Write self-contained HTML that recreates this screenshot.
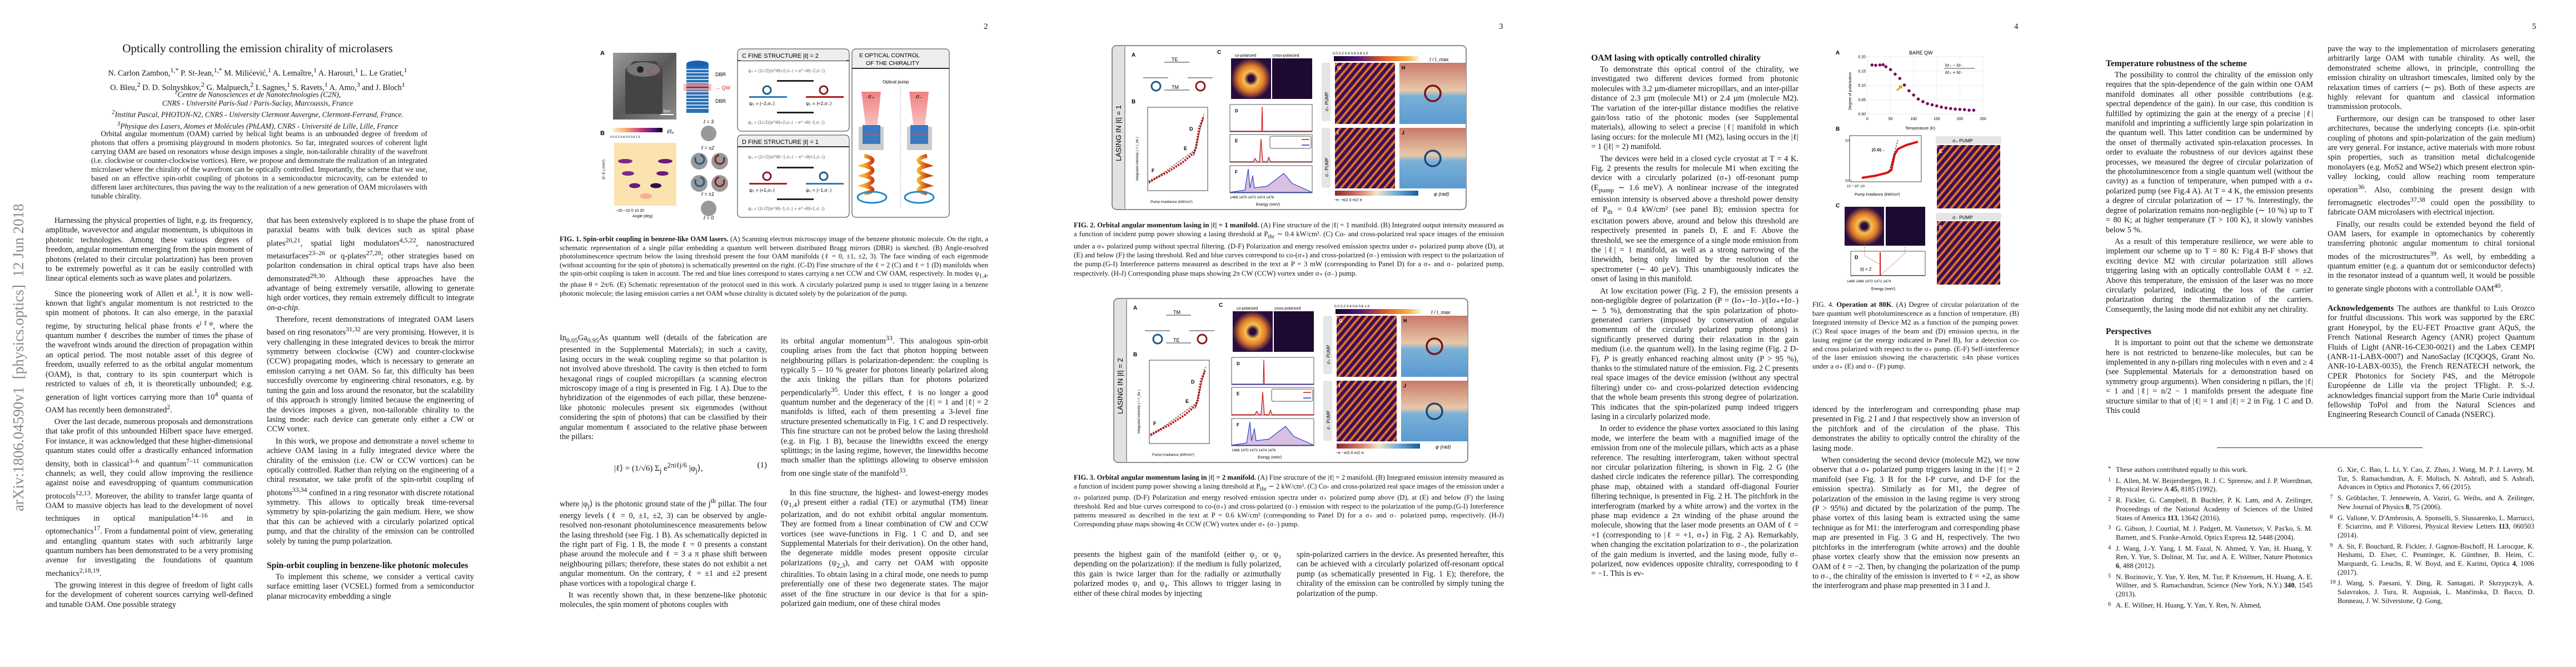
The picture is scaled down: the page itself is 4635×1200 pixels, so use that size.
<!DOCTYPE html>
<html><head><meta charset="utf-8">
<style>
html,body{margin:0;padding:0;background:#fff;}
body{width:4635px;height:1200px;position:relative;overflow:hidden;font-family:"Liberation Serif",serif;color:#151515;}
.a{position:absolute;}
.col{position:absolute;width:373px;font-size:14.4px;line-height:17.4px;text-align:justify;overflow:hidden;hyphens:auto;}
.col p{margin:0;text-indent:1.1em;}
.col p+p{margin-top:4px;}
.col h3{font-size:15.5px;margin:0 0 3px 0;font-weight:bold;text-align:left;line-height:18px;}
.cap{position:absolute;font-size:12.6px;line-height:15.6px;text-align:justify;overflow:hidden;}
.pn{position:absolute;top:40px;font-size:15px;}
.ref{font-size:12.6px;line-height:15.7px;text-align:justify;}
.ref p{margin:0;text-indent:0;padding-left:14px;position:relative;}
.ref p sup{position:absolute;left:0;top:-2px;}
svg text{font-family:"Liberation Sans",sans-serif;}
</style></head>
<body>
<div class="a" style="left:18px;top:920px;transform-origin:0 0;transform:rotate(-90deg);font-size:27px;color:#888;white-space:nowrap;font-family:'Liberation Serif',serif;">arXiv:1806.04590v1 &nbsp;[physics.optics] &nbsp;12 Jun 2018</div>

<!-- PAGE 1 -->
<div class="a" style="left:0;width:927px;top:75px;text-align:center;font-size:21px;font-weight:normal;">Optically controlling the emission chirality of microlasers</div>
<div class="a" style="left:100px;width:727px;top:116px;text-align:center;font-size:14.4px;line-height:20px;">N. Carlon Zambon,<sup>1,*</sup> P. St-Jean,<sup>1,*</sup> M. Milićević,<sup>1</sup> A. Lemaître,<sup>1</sup> A. Harouri,<sup>1</sup> L. Le Gratiet,<sup>1</sup><br>O. Bleu,<sup>2</sup> D. D. Solnyshkov,<sup>2</sup> G. Malpuech,<sup>2</sup> I. Sagnes,<sup>1</sup> S. Ravets,<sup>1</sup> A. Amo,<sup>3</sup> and J. Bloch<sup>1</sup></div>
<div class="a" style="left:100px;width:727px;top:158px;text-align:center;font-size:13.2px;line-height:16px;font-style:italic;"><sup>1</sup>Centre de Nanosciences et de Nanotechnologies (C2N),<br>CNRS - Université Paris-Sud / Paris-Saclay, Marcoussis, France<br><sup>2</sup>Institut Pascal, PHOTON-N2, CNRS - University Clermont Auvergne, Clermont-Ferrand, France.<br><sup>3</sup>Physique des Lasers, Atomes et Molécules (PhLAM), CNRS - Université de Lille, Lille, France</div>
<div class="a" style="left:164px;width:605px;top:233px;font-size:13.4px;line-height:16px;text-align:justify;text-indent:1.3em;">Orbital angular momentum (OAM) carried by helical light beams is an unbounded degree of freedom of photons that offers a promising playground in modern photonics. So far, integrated sources of coherent light carrying OAM are based on resonators whose design imposes a single, non-tailorable chirality of the wavefront (i.e. clockwise or counter-clockwise vortices). Here, we propose and demonstrate the realization of an integrated microlaser where the chirality of the wavefront can be optically controlled. Importantly, the scheme that we use, based on an effective spin-orbit coupling of photons in a semiconductor microcavity, can be extended to different laser architectures, thus paving the way to the realization of a new generation of OAM microlasers with tunable chirality.</div>

<div class="col" style="left:82px;top:389px;height:708px;">
<p>Harnessing the physical properties of light, e.g. its frequency, amplitude, wavevector and angular momentum, is ubiquitous in photonic technologies. Among these various degrees of freedom, angular momentum emerging from the spin moment of photons (related to their circular polarization) has been proven to be extremely powerful as it can be easily controlled with linear optical elements such as wave plates and polarizers.</p>
<p>Since the pioneering work of Allen et al.<sup>1</sup>, it is now well-known that light's angular momentum is not restricted to the spin moment of photons. It can also emerge, in the paraxial regime, by structuring helical phase fronts e<sup>iℓφ</sup>, where the quantum number ℓ describes the number of times the phase of the wavefront winds around the direction of propagation within an optical period. The most notable asset of this degree of freedom, usually referred to as the orbital angular momentum (OAM), is that, contrary to its spin counterpart which is restricted to values of ±ħ, it is theoretically unbounded; e.g. generation of light vortices carrying more than 10<sup>4</sup> quanta of OAM has recently been demonstrated<sup>2</sup>.</p>
<p>Over the last decade, numerous proposals and demonstrations that take profit of this unbounded Hilbert space have emerged. For instance, it was acknowledged that these higher-dimensional quantum states could offer a drastically enhanced information density, both in classical<sup>3–6</sup> and quantum<sup>7–11</sup> communication channels; as well, they could allow improving the resilience against noise and eavesdropping of quantum communication protocols<sup>12,13</sup>. Moreover, the ability to transfer large quanta of OAM to massive objects has lead to the development of novel techniques in optical manipulation<sup>14–16</sup> and in optomechanics<sup>17</sup>. From a fundamental point of view, generating and entangling quantum states with such arbitrarily large quantum numbers has been demonstrated to be a very promising avenue for investigating the foundations of quantum mechanics<sup>2,18,19</sup>.</p>
<p>The growing interest in this degree of freedom of light calls for the development of coherent sources carrying well-defined and tunable OAM. One possible strategy</p>
</div>
<div class="col" style="left:480px;top:389px;height:708px;">
<p style="text-indent:0">that has been extensively explored is to shape the phase front of paraxial beams with bulk devices such as spiral phase plates<sup>20,21</sup>, spatial light modulators<sup>4,5,22</sup>, nanostructured metasurfaces<sup>23–26</sup> or q-plates<sup>27,28</sup>; other strategies based on polariton condensation in chiral optical traps have also been demonstrated<sup>29,30</sup>. Although these approaches have the advantage of being extremely versatile, allowing to generate high order vortices, they remain extremely difficult to integrate <i>on-a-chip</i>.</p>
<p>Therefore, recent demonstrations of integrated OAM lasers based on ring resonators<sup>31,32</sup> are very promising. However, it is very challenging in these integrated devices to break the mirror symmetry between clockwise (CW) and counter-clockwise (CCW) propagating modes, which is necessary to generate an emission carrying a net OAM. So far, this difficulty has been succesfully overcome by engineering chiral resonators, e.g. by tuning the gain and loss around the resonator, but the scalability of this approach is strongly limited because the engineering of the devices imposes a given, non-tailorable chirality to the lasing mode: each device can generate only either a CW or CCW vortex.</p>
<p>In this work, we propose and demonstrate a novel scheme to achieve OAM lasing in a fully integrated device where the chirality of the emission (i.e. CW or CCW vortices) can be optically controlled. Rather than relying on the engineering of a chiral resonator, we take profit of the spin-orbit coupling of photons<sup>33,34</sup> confined in a ring resonator with discrete rotational symmetry. This allows to optically break time-reversal symmetry by spin-polarizing the gain medium. Here, we show that this can be achieved with a circularly polarized optical pump, and that the chirality of the emission can be controlled solely by tuning the pump polarization.</p>
<h3 style="margin-top:26px;">Spin-orbit coupling in benzene-like photonic molecules</h3>
<p>To implement this scheme, we consider a vertical cavity surface emitting laser (VCSEL) formed from a semiconductor planar microcavity embedding a single</p>
</div>

<!-- PAGE 2 -->
<div class="pn" style="left:1770px;">2</div>
<svg class="a" style="left:1080px;top:85px;" width="640" height="310" viewBox="0 0 640 310">
 <defs>
  <linearGradient id="semg" x1="0" y1="0" x2="1" y2="1"><stop offset="0" stop-color="#9a9a9a"/><stop offset="0.5" stop-color="#5a5a5a"/><stop offset="1" stop-color="#8a8a8a"/></linearGradient>
  <linearGradient id="magma" x1="0" x2="1"><stop offset="0" stop-color="#fcf3c8"/><stop offset="0.3" stop-color="#f8a070"/><stop offset="0.6" stop-color="#b73779"/><stop offset="0.85" stop-color="#51127c"/><stop offset="1" stop-color="#000004"/></linearGradient>
  <linearGradient id="beam" x1="0" y1="0" x2="0" y2="1"><stop offset="0" stop-color="#f08080"/><stop offset="1" stop-color="#f7c6c6"/></linearGradient>
  <linearGradient id="spiral" x1="0" x2="1"><stop offset="0" stop-color="#f5b030"/><stop offset="1" stop-color="#d04010"/></linearGradient>
 </defs>
 <text x="0" y="14" font-size="11" font-weight="bold">A</text>
 <rect x="23" y="10" width="114" height="120" fill="url(#semg)"/>
 <path d="M45 40 L60 25 L100 25 L112 40 L112 120 L45 120 Z" fill="#444"/>
 <ellipse cx="78" cy="40" rx="30" ry="13" fill="#777"/><circle cx="72" cy="40" r="6" fill="#222"/>
 <ellipse cx="98" cy="44" rx="12" ry="7" fill="none" stroke="#d33" stroke-dasharray="2 1"/>
 <rect x="108" y="120" width="24" height="2" fill="#fff"/><text x="113" y="117" font-size="7" fill="#fff">3µm</text>
 <g>
  <rect x="155" y="30" width="40" height="88" fill="#2a6fb5"/>
  <g stroke="#fff" stroke-width="1.5"><line x1="155" y1="40" x2="195" y2="40"/><line x1="155" y1="46" x2="195" y2="46"/><line x1="155" y1="52" x2="195" y2="52"/><line x1="155" y1="58" x2="195" y2="58"/><line x1="155" y1="64" x2="195" y2="64"/><line x1="155" y1="80" x2="195" y2="80"/><line x1="155" y1="86" x2="195" y2="86"/><line x1="155" y1="92" x2="195" y2="92"/><line x1="155" y1="98" x2="195" y2="98"/><line x1="155" y1="104" x2="195" y2="104"/><line x1="155" y1="110" x2="195" y2="110"/></g>
  <rect x="150" y="66" width="50" height="12" fill="#f4a0a0" opacity="0.7"/><line x1="155" y1="72" x2="195" y2="72" stroke="#c00" stroke-width="2"/>
  <ellipse cx="175" cy="30" rx="20" ry="6" fill="#1a5fb5"/>
  <text x="207" y="52" font-size="9">DBR</text><text x="207" y="76" font-size="9" fill="#d22">→ QW</text><text x="207" y="100" font-size="9">DBR</text>
 </g>
 <text x="0" y="158" font-size="11" font-weight="bold">B</text>
 <rect x="22" y="145" width="90" height="8" fill="url(#magma)"/>
 <text x="18" y="163" font-size="5.5">0.0 0.2 0.4 0.6 0.8 1.0</text><text x="120" y="155" font-size="10" font-style="italic" font-family="Liberation Serif">I/I₀</text>
 <g>
  <rect x="25" y="172" width="112" height="113" fill="#fbe3b0"/>
  <ellipse cx="45" cy="205" rx="13" ry="4" fill="#7a2a8a"/><ellipse cx="117" cy="205" rx="13" ry="4" fill="#6a1a7a"/>
  <ellipse cx="50" cy="227" rx="11" ry="4" fill="#7a2a8a"/><ellipse cx="112" cy="227" rx="11" ry="4" fill="#6a1a7a"/>
  <ellipse cx="62" cy="249" rx="10" ry="4.5" fill="#6a1a7a"/><ellipse cx="100" cy="249" rx="10" ry="4.5" fill="#300a50"/>
  <ellipse cx="82" cy="268" rx="11" ry="5" fill="#f5b090"/>
  <text x="0" y="230" font-size="6" transform="rotate(-90 8 230)">(E−E₀) (meV)</text>
  <text x="28" y="296" font-size="7">−20 −10  0  10  20</text><text x="58" y="306" font-size="7">Angle (deg)</text>
 </g>
 <g fill="#999">
  <circle cx="195" cy="155" r="14"/><circle cx="178" cy="205" r="15"/><circle cx="215" cy="205" r="15"/><circle cx="178" cy="245" r="15"/><circle cx="215" cy="245" r="15"/><circle cx="195" cy="290" r="14"/>
 </g>
 <g fill="none" stroke-width="3"><path d="M172 198 a8 8 0 1 0 8 -4" stroke="#1d5a8a"/><path d="M172 238 a8 8 0 1 0 8 -4" stroke="#1d5a8a"/><path d="M222 198 a8 8 0 1 1 -8 -4" stroke="#8a1a1a"/><path d="M222 238 a8 8 0 1 1 -8 -4" stroke="#8a1a1a"/></g>
 <text x="186" y="137" font-size="9" font-family="Liberation Serif" font-style="italic">ℓ = 3</text><text x="182" y="184" font-size="9" font-family="Liberation Serif" font-style="italic">ℓ = ±2</text><text x="182" y="267" font-size="9" font-family="Liberation Serif" font-style="italic">ℓ = ±1</text><text x="186" y="310" font-size="9" font-family="Liberation Serif" font-style="italic">ℓ = 0</text>
 <g>
  <rect x="247" y="3" width="201" height="148" rx="7" fill="#fff" stroke="#333"/>
  <path d="M247 24 L448 24" stroke="#333" stroke-width="2"/><rect x="248" y="4" width="199" height="20" rx="6" fill="#eee"/>
  <text x="255" y="19" font-size="11" font-family="Liberation Serif">C  FINE STRUCTURE |ℓ| = 2</text>
  <text x="266" y="45" font-size="8" font-family="Liberation Serif" fill="#666">ψ₄ = (1/√2)(e^iθ|+2,σ₊⟩ + e^−iθ|−2,σ₋⟩)</text>
  <rect x="318" y="59" width="66" height="3" fill="#222"/>
  <rect x="268" y="88" width="68" height="3" fill="#2a7ac0"/><rect x="370" y="88" width="68" height="3" fill="#b01a1a"/>
  <circle cx="300" cy="77" r="7" fill="none" stroke="#1d5a8a" stroke-width="3"/><circle cx="402" cy="77" r="7" fill="none" stroke="#8a1a1a" stroke-width="3"/>
  <text x="268" y="104" font-size="8.5" font-family="Liberation Serif">ψ₂ = |−2,σ₊⟩</text><text x="370" y="104" font-size="8.5" font-family="Liberation Serif">ψ₃ = |+2,σ₋⟩</text>
  <rect x="318" y="116" width="66" height="3" fill="#222"/>
  <text x="266" y="138" font-size="8" font-family="Liberation Serif" fill="#666">ψ₁ = (1/√2)(e^iθ|+2,σ₊⟩ − e^−iθ|−2,σ₋⟩)</text>
 </g>
 <g>
  <rect x="247" y="158" width="201" height="148" rx="7" fill="#fff" stroke="#333"/>
  <rect x="248" y="159" width="199" height="20" rx="6" fill="#eee"/><path d="M247 179 L448 179" stroke="#333" stroke-width="2"/>
  <text x="255" y="174" font-size="11" font-family="Liberation Serif">D  FINE STRUCTURE |ℓ| = 1</text>
  <text x="266" y="200" font-size="8" font-family="Liberation Serif" fill="#666">ψ₄ = (1/√2)(e^iθ|−1,σ₊⟩ − e^−iθ|+1,σ₋⟩)</text>
  <rect x="318" y="215" width="66" height="3" fill="#222"/>
  <rect x="268" y="244" width="68" height="3" fill="#b01a1a"/><rect x="370" y="244" width="68" height="3" fill="#2a7ac0"/>
  <circle cx="300" cy="232" r="7" fill="none" stroke="#8a1a1a" stroke-width="3"/><circle cx="402" cy="232" r="7" fill="none" stroke="#1d5a8a" stroke-width="3"/>
  <text x="268" y="260" font-size="8.5" font-family="Liberation Serif">ψ₂ = |+1,σ₊⟩</text><text x="370" y="260" font-size="8.5" font-family="Liberation Serif">ψ₃ = |−1,σ₋⟩</text>
  <rect x="318" y="272" width="66" height="3" fill="#222"/>
  <text x="266" y="293" font-size="8" font-family="Liberation Serif" fill="#666">ψ₁ = (1/√2)(e^iθ|−1,σ₊⟩ + e^−iθ|+1,σ₋⟩)</text>
 </g>
 <g>
  <rect x="453" y="3" width="175" height="303" rx="7" fill="#fff" stroke="#333"/>
  <rect x="454" y="4" width="173" height="34" rx="6" fill="#eee"/><path d="M453 38 L628 38" stroke="#333" stroke-width="2"/>
  <text x="466" y="18" font-size="10.5" font-family="Liberation Serif">E  OPTICAL CONTROL</text><text x="478" y="32" font-size="10.5" font-family="Liberation Serif">OF THE CHIRALITY</text>
  <text x="508" y="65" font-size="8" font-family="Liberation Serif">Optical pump</text>
  <path d="M470 80 L505 80 L498 145 L478 145 Z" fill="url(#beam)"/><path d="M556 80 L591 80 L584 145 L564 145 Z" fill="url(#beam)"/>
  <text x="482" y="92" font-size="10" font-family="Liberation Serif" font-style="italic">σ₊</text><text x="568" y="92" font-size="10" font-family="Liberation Serif" font-style="italic">σ₋</text>
  <rect x="465" y="143" width="45" height="42" fill="#ccc"/><rect x="552" y="143" width="45" height="42" fill="#ccc"/>
  <rect x="472" y="140" width="32" height="34" fill="#3a7ac0"/><rect x="558" y="140" width="32" height="34" fill="#3a7ac0"/>
  <line x1="472" y1="158" x2="504" y2="158" stroke="#e44" stroke-width="1.5"/><line x1="558" y1="158" x2="590" y2="158" stroke="#e44" stroke-width="1.5"/>
  <path d="M475 195 q30 8 0 18 q30 8 0 18 q30 8 0 18 q30 8 0 14" fill="none" stroke="url(#spiral)" stroke-width="7"/>
  <path d="M588 195 q-30 8 0 18 q-30 8 0 18 q-30 8 0 18 q-30 8 0 14" fill="none" stroke="url(#spiral)" stroke-width="7"/>
  <ellipse cx="489" cy="270" rx="26" ry="10" fill="none" stroke="#2a8ad0" stroke-width="3"/><ellipse cx="574" cy="270" rx="26" ry="10" fill="none" stroke="#2a8ad0" stroke-width="3"/>
  <line x1="540" y1="70" x2="540" y2="290" stroke="#999" stroke-dasharray="2 2"/>
 </g>
</svg>
<div class="cap" style="left:1007px;top:423px;width:771px;height:140px;"><b>FIG. 1. Spin-orbit coupling in benzene-like OAM lasers.</b> (A) Scanning electron microscopy image of the benzene photonic molecule. On the right, a schematic representation of a single pillar embedding a quantum well between distributed Bragg mirrors (DBR) is sketched. (B) Angle-resolved photoluminescence spectrum below the lasing threshold present the four OAM manifolds (ℓ = 0, ±1, ±2, 3). The face winding of each eigenmode (without accounting for the spin of photons) is schematically presented on the right. (C-D) Fine structure of the ℓ = 2 (C) and ℓ = 1 (D) manifolds when the spin-orbit coupling is taken in account. The red and blue lines correspond to states carrying a net CCW and CW OAM, respectively. In modes ψ<sub>1,4</sub>, the phase θ = 2π/6. (E) Schematic representation of the protocol used in this work. A circularly polarized pump is used to trigger lasing in a benzene photonic molecule; the lasing emission carries a net OAM whose chirality is dictated solely by the polarization of the pump.</div>
<div class="col" style="left:1007px;top:600px;height:497px;">
<p style="text-indent:0">In<sub>0.05</sub>Ga<sub>0.95</sub>As quantum well (details of the fabrication are presented in the Supplemental Materials); in such a cavity, lasing occurs in the weak coupling regime so that polariton is not involved above threshold. The cavity is then etched to form hexagonal rings of coupled micropillars (a scanning electron microscopy image of a ring is presented in Fig. 1 A). Due to the hybridization of the eigenmodes of each pillar, these benzene-like photonic molecules present six eigenmodes (without considering the spin of photons) that can be classified by their angular momentum ℓ associated to the relative phase between the pillars:</p>
<div style="text-align:center;margin:34px 0 36px 0;font-size:15px;">|ℓ⟩ = (1/√6) Σ<sub>j</sub> e<sup>2πiℓj/6</sup> |φ<sub>j</sub>⟩, <span style="float:right">(1)</span></div>
<p style="text-indent:0">where |φ<sub>j</sub>⟩ is the photonic ground state of the j<sup>th</sup> pillar. The four energy levels (ℓ = 0, ±1, ±2, 3) can be observed by angle-resolved non-resonant photoluminescence measurements below the lasing threshold (see Fig. 1 B). As schematically depicted in the right part of Fig. 1 B, the mode ℓ = 0 presents a constant phase around the molecule and ℓ = 3 a π phase shift between neighbouring pillars; therefore, these states do not exhibit a net angular momentum. On the contrary, ℓ = ±1 and ±2 present phase vortices with a topological charge ℓ.</p>
<p>It was recently shown that, in these benzene-like photonic molecules, the spin moment of photons couples with</p>
</div>
<div class="col" style="left:1405px;top:600px;height:497px;">
<p style="text-indent:0">its orbital angular momentum<sup>33</sup>. This analogous spin-orbit coupling arises from the fact that photon hopping between neighbouring pillars is polarization-dependent: the coupling is typically 5 – 10 % greater for photons linearly polarized along the axis linking the pillars than for photons polarized perpendicularly<sup>35</sup>. Under this effect, ℓ is no longer a good quantum number and the degeneracy of the |ℓ| = 1 and |ℓ| = 2 manifolds is lifted, each of them presenting a 3-level fine structure presented schematically in Fig. 1 C and D respectively. This fine structure can not be probed below the lasing threshold (e.g. in Fig. 1 B), because the linewidths exceed the energy splittings; in the lasing regime, however, the linewidths become much smaller than the splittings allowing to observe emission from one single state of the manifold<sup>33</sup>.</p>
<p style="margin-top:18px">In this fine structure, the highest- and lowest-energy modes (ψ<sub>1,4</sub>) present either a radial (TE) or azymuthal (TM) linear polarization, and do not exhibit orbital angular momentum. They are formed from a linear combination of CW and CCW vortices (see wave-functions in Fig. 1 C and D, and see Supplemental Materials for their derivation). On the other hand, the degenerate middle modes present opposite circular polarizations (ψ<sub>2,3</sub>), and carry net OAM with opposite chiralities. To obtain lasing in a chiral mode, one needs to pump preferentially one of these two degenerate states. The major asset of the fine structure in our device is that for a spin-polarized gain medium, one of these chiral modes</p>
</div>

<!-- PAGE 3 -->
<div class="pn" style="left:2697px;">3</div>
<svg class="a" id="fig2" style="left:2000px;top:80px;" width="640" height="300" viewBox="0 0 640 300">
 <defs>
  <linearGradient id="inf" x1="0" x2="1"><stop offset="0" stop-color="#0d0829"/><stop offset="0.3" stop-color="#5a1a78"/><stop offset="0.6" stop-color="#e0602a"/><stop offset="0.85" stop-color="#f8b040"/><stop offset="1" stop-color="#fcf3c8"/></linearGradient>
  <linearGradient id="phs" x1="0" x2="1"><stop offset="0" stop-color="#8a2a2a"/><stop offset="0.3" stop-color="#d88070"/><stop offset="0.5" stop-color="#f3e6c0"/><stop offset="0.75" stop-color="#6aaad6"/><stop offset="1" stop-color="#1a5a9a"/></linearGradient>
  <pattern id="stripes" width="10" height="10" patternUnits="userSpaceOnUse" patternTransform="rotate(40)"><rect width="10" height="10" fill="#3a1055"/><rect width="4" height="10" fill="#e0702a"/></pattern>
  <radialGradient id="donut"><stop offset="0.15" stop-color="#2a0a40"/><stop offset="0.35" stop-color="#f8c050"/><stop offset="0.65" stop-color="#e07a2a"/><stop offset="1" stop-color="#2a0d40"/></radialGradient>
  <linearGradient id="phmap" x1="0" y1="0" x2="0" y2="1"><stop offset="0" stop-color="#c87a6a"/><stop offset="0.45" stop-color="#e8c8a8"/><stop offset="0.55" stop-color="#7ab0d8"/><stop offset="1" stop-color="#5a9ad0"/></linearGradient>
 </defs>
 <rect x="1" y="2" width="637" height="295" rx="8" fill="#fff" stroke="#666" stroke-width="1.5"/>
 <rect x="2" y="3" width="22" height="293" rx="6" fill="#e2e2e2"/><line x1="24" y1="3" x2="24" y2="296" stroke="#555"/>
 <text class="lbl" x="17" y="210" font-size="13" font-family="Liberation Serif" transform="rotate(-90 17 210)">LASING IN |ℓ| = 1</text>
 <text x="36" y="22" font-size="10" font-weight="bold">A</text>
 <line x1="95" y1="32" x2="140" y2="32" stroke="#777" stroke-width="1.5"/><line x1="57" y1="60" x2="102" y2="60" stroke="#777" stroke-width="1.5"/><line x1="137" y1="60" x2="182" y2="60" stroke="#777" stroke-width="1.5"/><line x1="95" y1="82" x2="140" y2="82" stroke="#777" stroke-width="1.5"/>
 <text class="tA" x="108" y="30" font-size="9" font-family="Liberation Serif">TE</text><text class="tB" x="108" y="80" font-size="9" font-family="Liberation Serif">TM</text>
 <circle cx="80" cy="75" r="8" fill="none" stroke="#1d5a8a" stroke-width="3"/><circle cx="160" cy="75" r="8" fill="none" stroke="#8a1a1a" stroke-width="3"/>
 <text x="36" y="106" font-size="10" font-weight="bold">B</text>
 <g>
  <rect x="65" y="113" width="108" height="150" fill="#fff" stroke="#444"/>
  <path d="M67 247 L100 230 L128 212 L148 195 L152 185 L158 150 L165 132" fill="none" stroke="#d01010" stroke-width="4" stroke-dasharray="3 2"/>
  <path d="M67 250 L150 190 M148 200 L166 125" stroke="#111" stroke-dasharray="3 2" fill="none"/>
  <text x="140" y="155" font-size="9" font-weight="bold">D</text><text x="130" y="190" font-size="9" font-weight="bold">E</text><text x="72" y="230" font-size="9" font-weight="bold">F</text>
  <text x="48" y="245" font-size="6" transform="rotate(-90 48 245)">Integrated Intensity ( I / I_thr )</text>
  <text x="70" y="285" font-size="6.5">Pump Irradiance (kW/cm²)</text>
 </g>
 <text x="190" y="17" font-size="10" font-weight="bold">C</text>
 <text x="222" y="22" font-size="7" font-family="Liberation Serif">co-polarized</text><text x="290" y="22" font-size="7" font-family="Liberation Serif">cross-polarized</text>
 <rect x="215" y="25" width="72" height="73" fill="url(#donut)"/><rect x="289" y="25" width="72" height="73" fill="#1e0a30"/>
 <g>
  <rect x="213" y="108" width="148" height="49" fill="#fff" stroke="#555"/><rect x="213" y="162" width="148" height="50" fill="#fff" stroke="#555"/><rect x="213" y="218" width="148" height="49" fill="#fff" stroke="#555"/>
  <path d="M213 156 L270 156 L271 112 L272 156 L361 156" fill="none" stroke="#d01010" stroke-width="1.2"/><line x1="213" y1="156.5" x2="361" y2="156.5" stroke="#2030d0"/>
  <path d="M213 211 L255 211 L258 205 L262 211 L266 211 L269 170 L272 211 L280 211 L283 203 L286 211 L361 211" fill="#e8c8d8" stroke="#d01010" stroke-width="1.2"/>
  <path d="M213 266 L240 262 L246 224 L249 258 L254 236 L257 258 L280 255 L310 232 L325 250 L361 266 Z" fill="#d8c0e0" stroke="#3040c0" stroke-width="1.2"/>
  <rect x="285" y="165" width="74" height="22" rx="3" fill="#fff" stroke="#555"/>
  <line x1="342" y1="171" x2="356" y2="171" stroke="#d01010" stroke-width="1.5"/><line x1="342" y1="181" x2="356" y2="181" stroke="#2030d0" stroke-width="1.5"/>
  <text x="222" y="122" font-size="8" font-weight="bold">D</text><text x="222" y="176" font-size="8" font-weight="bold">E</text><text x="222" y="232" font-size="8" font-weight="bold">F</text>
  <text x="213" y="277" font-size="6.5">1468   1470   1472   1474   1476</text><text x="260" y="290" font-size="7">Energy (meV)</text>
 </g>
 <rect x="400" y="21" width="153" height="9" fill="url(#inf)"/><text x="398" y="18" font-size="6.5">0.0   0.2   0.4   0.6   0.8   1.0</text>
 <text x="572" y="30" font-size="9" font-style="italic" font-family="Liberation Serif">I / I_max</text>
 <rect x="378" y="33" width="16" height="105" rx="4" fill="#e5e5e5"/><rect x="378" y="150" width="16" height="108" rx="4" fill="#e5e5e5"/>
 <text x="390" y="120" font-size="8" font-family="Liberation Serif" transform="rotate(-90 390 120)">σ₊  PUMP</text><text x="390" y="238" font-size="8" font-family="Liberation Serif" transform="rotate(-90 390 238)">σ₋  PUMP</text>
 <g>
  <rect x="402" y="33" width="108" height="110" fill="url(#stripes)"/><rect x="402" y="150" width="108" height="109" fill="url(#stripes)"/>
  <text x="406" y="45" font-size="9" fill="#fff" font-weight="bold">G</text><text x="406" y="162" font-size="9" fill="#fff" font-weight="bold">I</text>
 </g>
 <g>
  <rect x="518" y="33" width="120" height="110" fill="url(#phmap)"/><rect x="518" y="150" width="120" height="109" fill="url(#phmap)"/>
  <circle cx="578" cy="88" r="14" fill="none" stroke="#7a1515" stroke-width="3.5"/><circle cx="578" cy="205" r="14" fill="none" stroke="#1a4a7a" stroke-width="3.5"/>
  <text x="522" y="45" font-size="9" font-weight="bold">H</text><text x="522" y="162" font-size="9" font-weight="bold">J</text>
 </g>
 <rect x="402" y="263" width="150" height="9" fill="url(#phs)"/>
 <text x="400" y="282" font-size="7" font-family="Liberation Serif">−π     −π/2      0      π/2      π</text><text x="580" y="272" font-size="9" font-style="italic" font-family="Liberation Serif">φ (rad)</text>
</svg>
<div class="cap" style="left:1932px;top:397px;width:774px;height:120px;font-size:12.8px;line-height:16.2px;"><b>FIG. 2. Orbital angular momentum lasing in |ℓ| = 1 manifold.</b> (A) Fine structure of the |ℓ| = 1 manifold. (B) Integrated output intensity measured as a function of incident pump power showing a lasing threshold at P<sub>thr</sub> ∼ 0.4 kW/cm². (C) Co- and cross-polarized real space images of the emission under a σ₊ polarized pump without spectral filtering. (D-F) Polarization and energy resolved emission spectra under σ₊ polarized pump above (D), at (E) and below (F) the lasing threshold. Red and blue curves correspond to co-(σ₊) and cross-polarized (σ₋) emission with respect to the polarization of the pump.(G-I) Interference patterns measured as described in the text at P = 3 mW (corresponding to Panel D) for a σ₊ and σ₋ polarized pump, respectively. (H-J) Corresponding phase maps showing 2π CW (CCW) vortex under σ₊ (σ₋) pump.</div>
<div id="fig3holder" class="a" style="left:2003px;top:535px;width:640px;height:300px;"></div>
<div class="cap" style="left:1932px;top:852px;width:774px;height:115px;font-size:12.6px;line-height:15.8px;"><b>FIG. 3. Orbital angular momentum lasing in |ℓ| = 2 manifold.</b> (A) Fine structure of the |ℓ| = 2 manifold. (B) Integrated emission intensity measured as a function of incident pump power showing a lasing threshold at P<sub>thr</sub> ∼ 2 kW/cm². (C) Co- and cross-polarized real space images of the emission under a σ₊ polarized pump. (D-F) Polarization and energy resolved emission spectra under σ₊ polarized pump above (D), at (E) and below (F) the lasing threshold. Red and blue curves correspond to co-(σ₊) and cross-polarized (σ₋) emission with respect to the polarization of the pump.(G-I) Interference patterns measured as described in the text at P = 0.6 kW/cm² (corresponding to Panel D) for a σ₊ and σ₋ polarized pump, respectively. (H-J) Corresponding phase maps showing 4π CCW (CW) vortex under σ₊ (σ₋) pump.</div>
<div class="col" style="left:1932px;top:990px;height:92px;">
<p style="text-indent:0">presents the highest gain of the manifold (either ψ₂ or ψ₃ depending on the polarization): if the medium is fully polarized, this gain is twice larger than for the radially or azimuthally polarized modes ψ₁ and ψ₄. This allows to trigger lasing in either of these chiral modes by injecting</p>
</div>
<div class="col" style="left:2333px;top:990px;height:92px;">
<p style="text-indent:0">spin-polarized carriers in the device. As presented hereafter, this can be achieved with a circularly polarized off-resonant optical pump (as schematically presented in Fig. 1 E); therefore, the chirality of the emission can be controlled by simply tuning the polarization of the pump.</p>
</div>

<!-- PAGE 4 -->
<div class="pn" style="left:3624px;">4</div>
<div class="col" style="left:2863px;top:96px;height:1002px;">
<h3>OAM lasing with optically controlled chirality</h3>
<p>To demonstrate this optical control of the chirality, we investigated two different devices formed from photonic molecules with 3.2 µm-diameter micropillars, and an inter-pillar distance of 2.3 µm (molecule M1) or 2.4 µm (molecule M2). The variation of the inter-pillar distance modifies the relative gain/loss ratio of the photonic modes (see Supplemental materials), allowing to select a precise |ℓ| manifold in which lasing occurs: for the molecule M1 (M2), lasing occurs in the |ℓ| = 1 (|ℓ| = 2) manifold.</p>
<p>The devices were held in a closed cycle cryostat at T = 4 K. Fig. 2 presents the results for molecule M1 when exciting the device with a circularly polarized (σ₊) off-resonant pump (E<sub>pump</sub> ∼ 1.6 meV). A nonlinear increase of the integrated emission intensity is observed above a threshold power density of P<sub>th</sub> = 0.4 kW/cm² (see panel B); emission spectra for excitation powers above, around and below this threshold are respectively presented in panels D, E and F. Above the threshold, we see the emergence of a single mode emission from the |ℓ| = 1 manifold, as well as a strong narrowing of the linewidth, being only limited by the resolution of the spectrometer (∼ 40 µeV). This unambiguously indicates the onset of lasing in this manifold.</p>
<p>At low excitation power (Fig. 2 F), the emission presents a non-negligible degree of polarization (P = (Iσ₊−Iσ₋)/(Iσ₊+Iσ₋) ∼ 5 %), demonstrating that the spin polarization of photo-generated carriers (imposed by conservation of angular momentum of the circularly polarized pump photons) is significantly preserved during their relaxation in the gain medium (i.e. the quantum well). In the lasing regime (Fig. 2 D-F), <i>P</i> is greatly enhanced reaching almost unity (P &gt; 95 %), thanks to the stimulated nature of the emission. Fig. 2 C presents real space images of the device emission (without any spectral filtering) under co- and cross-polarized detection evidencing that the whole beam presents this strong degree of polarization. This indicates that the spin-polarized pump indeed triggers lasing in a circularly polarized mode.</p>
<p>In order to evidence the phase vortex associated to this lasing mode, we interfere the beam with a magnified image of the emission from one of the molecule pillars, which acts as a phase reference. The resulting interferogram, taken without spectral nor circular polarization filtering, is shown in Fig. 2 G (the dashed circle indicates the reference pillar). The corresponding phase map, obtained with a standard off-diagonal Fourier filtering technique, is presented in Fig. 2 H. The pitchfork in the interferogram (marked by a white arrow) and the vortex in the phase map evidence a 2π winding of the phase around the molecule, showing that the laser mode presents an OAM of ℓ = +1 (corresponding to |ℓ = +1, σ₊⟩ in Fig. 2 A). Remarkably, when changing the excitation polarization to σ₋, the polarization of the gain medium is inverted, and the lasing mode, fully σ₋ polarized, now evidences opposite chirality, corresponding to ℓ = −1. This is ev-</p>
</div>
<svg class="a" id="fig4" style="left:3285px;top:80px;" width="330" height="450" viewBox="0 0 330 450">
 <text x="18" y="18" font-size="10" font-weight="bold">A</text>
 <text x="150" y="18" font-size="9" font-family="Liberation Serif">BARE QW</text>
 <rect x="75" y="22" width="208" height="103" fill="#fff" stroke="#444"/>
 <g id="fig4a-grid" stroke="#eee"></g>
 <g id="fig4a-ticks" font-size="7"></g>
 <g id="fig4a-points" fill="#7a0a5a"></g>
 <text x="215" y="40" font-size="8" font-style="italic" font-family="Liberation Serif">Iσ₊ − Iσ₋</text><line x1="213" y1="43" x2="268" y2="43" stroke="#444"/><text x="215" y="53" font-size="8" font-style="italic" font-family="Liberation Serif">Iσ₊ + Iσ₋</text>
 <path d="M128 83 l8 -8 m-4 0 l4 0 l0 4" stroke="#d8a800" stroke-width="3" fill="none"/>
 <text x="46" y="118" font-size="7" transform="rotate(-90 46 118)">Degree of polarization</text>
 <text x="143" y="153" font-size="7.5">Temperature (K)</text>
 <text x="18" y="155" font-size="10" font-weight="bold">B</text>
 <g>
  <rect x="43" y="164" width="129" height="83" fill="#fff" stroke="#444"/>
  <path d="M65 240 L90 236 L110 231 L118 226 L120 216 L124 198 L130 188 L145 181 L166 175" fill="none" stroke="#e01010" stroke-width="4"/>
  <line x1="113" y1="232" x2="130" y2="172" stroke="#111" stroke-dasharray="3 2"/>
  <text x="83" y="192" font-size="7" font-weight="bold">(C-D)→</text>
  <text x="35" y="175" font-size="6">10⁴</text><text x="35" y="247" font-size="6">10⁻¹</text>
  <text x="38" y="257" font-size="6">10⁻¹          10⁰          10¹</text>
  <text x="52" y="272" font-size="7">Pump Irradiance (kW/cm²)</text>
 </g>
 <text x="18" y="293" font-size="10" font-weight="bold">C</text>
 <rect x="34" y="292" width="71" height="70" fill="url(#donut)"/><rect x="108" y="292" width="71" height="70" fill="#1e0a30"/>
 <g>
  <rect x="45" y="372" width="134" height="44" fill="#fff" stroke="#555"/>
  <line x1="98" y1="374" x2="98" y2="416" stroke="#e01010" stroke-width="2"/><line x1="45" y1="415.5" x2="179" y2="415.5" stroke="#2030d0"/>
  <path d="M70 364 L70 380 L98 396 M143 364 L143 375 L99 415" stroke="#e04040" stroke-dasharray="2 2" fill="none"/>
  <text x="52" y="386" font-size="9" font-weight="bold">D</text><text x="62" y="407" font-size="8" font-family="Liberation Serif">|ℓ| = 2</text>
  <text x="38" y="428" font-size="6.5">1466  1468  1470  1472  1474</text><text x="82" y="442" font-size="7">Energy (meV)</text>
 </g>
 <rect x="198" y="165" width="118" height="14" rx="3" fill="#e5e5e5"/><text x="228" y="176" font-size="8.5" font-family="Liberation Serif">σ₊ PUMP</text>
 <rect x="200" y="181" width="114" height="114" fill="url(#stripes)"/><text x="204" y="195" font-size="9" fill="#fff" font-weight="bold">E</text>
 <rect x="198" y="303" width="118" height="14" rx="3" fill="#e5e5e5"/><text x="228" y="314" font-size="8.5" font-family="Liberation Serif">σ₋ PUMP</text>
 <rect x="200" y="318" width="114" height="114" fill="url(#stripes)"/><text x="204" y="332" font-size="9" fill="#fff" font-weight="bold">F</text>
</svg>
<div class="cap" style="left:3261px;top:541px;width:372px;height:145px;font-size:12.8px;line-height:15.9px;">FIG. 4. <b>Operation at 80K</b>. (A) Degree of circular polarization of the bare quantum well photoluminescence as a function of temperature. (B) Integrated intensity of Device M2 as a function of the pumping power. (C) Real space images of the beam and (D) emission spectra, in the lasing regime (at the energy indicated in Panel B), for a detection co- and cross polarized with respect to the σ₊ pump. (E-F) Self-interference of the laser emission showing the characteristic ±4π phase vortices under a σ₊ (E) and σ₋ (F) pump.</div>
<div class="col" style="left:3261px;top:729px;height:370px;">
<p style="text-indent:0">idenced by the interferogram and corresponding phase map presented in Fig. 2 I and J that respectively show an inversion of the pitchfork and of the circulation of the phase. This demonstrates the ability to optically control the chirality of the lasing mode.</p>
<p>When considering the second device (molecule M2), we now observe that a σ₊ polarized pump triggers lasing in the |ℓ| = 2 manifold (see Fig. 3 B for the I-P curve, and D-F for the emission spectra). Similarly as for M1, the degree of polarization of the emission in the lasing regime is very strong (P &gt; 95%) and dictated by the polarization of the pump. The phase vortex of this lasing beam is extracted using the same technique as for M1: the interferogram and corresponding phase map are presented in Fig. 3 G and H, respectively. The two pitchforks in the interferogram (white arrows) and the double phase vortex clearly show that the emission now presents an OAM of ℓ = −2. Then, by changing the polarization of the pump to σ₋, the chirality of the emission is inverted to ℓ = +2, as show the interferogram and phase map presented in 3 I and J.</p>
</div>

<!-- PAGE 5 -->
<div class="pn" style="left:4556px;">5</div>
<div class="col" style="left:3789px;top:98px;height:672px;">
<h3 style="margin-top:8px">Temperature robustness of the scheme</h3>
<p>The possibility to control the chirality of the emission only requires that the spin-dependence of the gain within one OAM manifold dominates all other possible contributions (e.g. spectral dependence of the gain). In our case, this condition is fulfilled by optimizing the gain at the energy of a precise |ℓ| manifold and imprinting a sufficiently large spin polarization in the quantum well. This latter condition can be undermined by the onset of thermally activated spin-relaxation processes. In order to evaluate the robustness of our devices against these processes, we measured the degree of circular polarization of the photoluminescence from a single quantum well (without the cavity) as a function of temperature, when pumped with a σ₊ polarized pump (see Fig.4 A). At T = 4 K, the emission presents a degree of circular polarization of ∼ 17 %. Interestingly, the degree of polarization remains non-negligible (∼ 10 %) up to T = 80 K; at higher temperature (T &gt; 100 K), it slowly vanishes below 5 %.</p>
<p>As a result of this temperature resilience, we were able to implement our scheme up to T = 80 K: Fig.4 B-F shows that exciting device M2 with circular polarization still allows triggering lasing with an optically controllable OAM ℓ = ±2. Above this temperature, the emission of the laser was no more circularly polarized, indicating the loss of the carrier polarization during the thermalization of the carriers. Consequently, the lasing mode did not exhibit any net chirality.</p>
<h3 style="margin-top:22px">Perspectives</h3>
<p>It is important to point out that the scheme we demonstrate here is not restricted to benzene-like molecules, but can be implemented in any n-pillars ring molecules with n even and ≥ 4 (see Supplemental Materials for a demonstration based on symmetry group arguments). When considering n pillars, the |ℓ| = 1 and |ℓ| = n/2 − 1 manifolds present the adequate fine structure similar to that of |ℓ| = 1 and |ℓ| = 2 in Fig. 1 C and D. This could</p>
</div>
<div class="col" style="left:4188px;top:80px;height:690px;">
<p style="text-indent:0">pave the way to the implementation of microlasers generating arbitrarily large OAM with tunable chirality. As well, the demonstrated scheme allows, in principle, controlling the emission chirality on ultrashort timescales, limited only by the relaxation times of carriers (∼ ps). Both of these aspects are highly relevant for quantum and classical information transmission protocols.</p>
<p>Furthermore, our design can be transposed to other laser architectures, because the underlying concepts (i.e. spin-orbit coupling of photons and spin-polarization of the gain medium) are very general. For instance, active materials with more robust spin properties, such as transition metal dichalcogenide monolayers (e.g. MoS2 and WSe2) which present electron spin-valley locking, could allow reaching room temperature operation<sup>36</sup>. Also, combining the present design with ferromagnetic electrodes<sup>37,38</sup> could open the possibility to fabricate OAM microlasers with electrical injection.</p>
<p>Finally, our results could be extended beyond the field of OAM lasers, for example in optomechanics by coherently transferring photonic angular momentum to chiral torsional modes of the microstructures<sup>39</sup>. As well, by embedding a quantum emitter (e.g. a quantum dot or semiconductor defects) in the resonator instead of a quantum well, it would be possible to generate single photons with a controllable OAM<sup>40</sup>.</p>
<p style="text-indent:0;margin-top:18px"><b>Acknowledgements</b> The authors are thankful to Luis Orozco for fruitful discussions. This work was supported by the ERC grant Honeypol, by the EU-FET Proactive grant AQuS, the French National Research Agency (ANR) project Quantum Fluids of Light (ANR-16-CE30-0021) and the Labex CEMPI (ANR-11-LABX-0007) and NanoSaclay (ICQOQS, Grant No. ANR-10-LABX-0035), the French RENATECH network, the CPER Photonics for Society P4S, and the Métropole Européenne de Lille via the project TFlight. P. S.-J. acknowledges financial support from the Marie Curie individual fellowship ToPol and from the Natural Sciences and Engineering Research Council of Canada (NSERC).</p>
</div>
<div class="a" style="left:3989px;top:805px;width:370px;height:1px;background:#333;"></div>
<div class="col ref" style="left:3793px;top:838px;width:368px;height:260px;">
<p><sup>*</sup>These authors contributed equally to this work.</p>
<p><sup>1</sup>L. Allen, M. W. Beijersbergen, R. J. C. Spreeuw, and J. P. Woerdman, Physical Review A <b>45</b>, 8185 (1992).</p>
<p><sup>2</sup>R. Fickler, G. Campbell, B. Buchler, P. K. Lam, and A. Zeilinger, Proceedings of the National Academy of Sciences of the United States of America <b>113</b>, 13642 (2016).</p>
<p><sup>3</sup>G. Gibson, J. Courtial, M. J. Padgett, M. Vasnetsov, V. Pas'ko, S. M. Barnett, and S. Franke-Arnold, Optics Express <b>12</b>, 5448 (2004).</p>
<p><sup>4</sup>J. Wang, J.-Y. Yang, I. M. Fazal, N. Ahmed, Y. Yan, H. Huang, Y. Ren, Y. Yue, S. Dolinar, M. Tur, and A. E. Willner, Nature Photonics <b>6</b>, 488 (2012).</p>
<p><sup>5</sup>N. Bozinovic, Y. Yue, Y. Ren, M. Tur, P. Kristensen, H. Huang, A. E. Willner, and S. Ramachandran, Science (New York, N.Y.) <b>340</b>, 1545 (2013).</p>
<p><sup>6</sup>A. E. Willner, H. Huang, Y. Yan, Y. Ren, N. Ahmed,</p>
</div>
<div class="col ref" style="left:4192px;top:838px;width:368px;height:260px;">
<p>G. Xie, C. Bao, L. Li, Y. Cao, Z. Zhao, J. Wang, M. P. J. Lavery, M. Tur, S. Ramachandran, A. F. Molisch, N. Ashrafi, and S. Ashrafi, Advances in Optics and Photonics <b>7</b>, 66 (2015).</p>
<p><sup>7</sup>S. Gröblacher, T. Jennewein, A. Vaziri, G. Weihs, and A. Zeilinger, New Journal of Physics <b>8</b>, 75 (2006).</p>
<p><sup>8</sup>G. Vallone, V. D'Ambrosio, A. Sponselli, S. Slussarenko, L. Marrucci, F. Sciarrino, and P. Villoresi, Physical Review Letters <b>113</b>, 060503 (2014).</p>
<p><sup>9</sup>A. Sit, F. Bouchard, R. Fickler, J. Gagnon-Bischoff, H. Larocque, K. Heshami, D. Elser, C. Peuntinger, K. Günthner, B. Heim, C. Marquardt, G. Leuchs, R. W. Boyd, and E. Karimi, Optica <b>4</b>, 1006 (2017).</p>
<p><sup>10</sup>J. Wang, S. Paesani, Y. Ding, R. Santagati, P. Skrzypczyk, A. Salavrakos, J. Tura, R. Augusiak, L. Mančinska, D. Bacco, D. Bonneau, J. W. Silverstone, Q. Gong,</p>
</div>

<script>
// Fig 4A data: degree of circular polarization vs temperature
var fig4aTemps = [10, 18, 27, 34, 40, 50, 60, 70, 80, 90, 100, 110, 120, 130, 140, 150, 160, 170, 180, 190, 200, 210, 220, 230];
var fig4aPol = [0.171, 0.170, 0.171, 0.172, 0.165, 0.155, 0.139, 0.124, 0.101, 0.081, 0.066, 0.052, 0.043, 0.036, 0.032, 0.028, 0.024, 0.021, 0.019, 0.017, 0.016, 0.015, 0.013, 0.013];
var fig4aXTicks = [0, 50, 100, 150, 200, 250];
var fig4aYTicks = [0.00, 0.05, 0.10, 0.15, 0.20];
var NS = 'http://www.w3.org/2000/svg';
function xT(t){ return 75 + (t - 0) / 250 * 208; }
function yP(p){ return 125 - p / 0.2 * 103; }
var grid = document.getElementById('fig4a-grid');
var ticks = document.getElementById('fig4a-ticks');
fig4aXTicks.forEach(function(t){
  var l = document.createElementNS(NS, 'line');
  
  
  l.setAttribute('x1', xT(t)); l.setAttribute('x2', xT(t)); l.setAttribute('y1', 22); l.setAttribute('y2', 125);
  grid.appendChild(l);
  var tx = document.createElementNS(NS, 'text');
  
  
  tx.setAttribute('x', xT(t)); tx.setAttribute('y', 136); tx.setAttribute('text-anchor', 'middle');
  tx.textContent = t; ticks.appendChild(tx);
});
fig4aYTicks.forEach(function(p){
  var l = document.createElementNS(NS, 'line');
  
  
  l.setAttribute('x1', 75); l.setAttribute('x2', 283); l.setAttribute('y1', yP(p)); l.setAttribute('y2', yP(p));
  grid.appendChild(l);
  var tx = document.createElementNS(NS, 'text');
  
  
  tx.setAttribute('x', 72); tx.setAttribute('y', yP(p) + 2.5); tx.setAttribute('text-anchor', 'end');
  tx.textContent = p.toFixed(2); ticks.appendChild(tx);
});
var pts = document.getElementById('fig4a-points');
for (var i = 0; i < fig4aTemps.length; i++) {
  var c = document.createElementNS(NS, 'circle');
  
  
  c.setAttribute('cx', xT(fig4aTemps[i])); c.setAttribute('cy', yP(fig4aPol[i])); c.setAttribute('r', 2.8);
  pts.appendChild(c);
}
// Fig 3: same layout as Fig 2
var f3 = document.getElementById('fig2').cloneNode(true);
f3.removeAttribute('id');


f3.style.left = '0px'; f3.style.top = '0px';
f3.querySelector('.lbl').textContent = 'LASING IN |ℓ| = 2';
f3.querySelector('.tA').textContent = 'TM';
f3.querySelector('.tB').textContent = 'TE';
document.getElementById('fig3holder').appendChild(f3);
</script>
</body></html>
